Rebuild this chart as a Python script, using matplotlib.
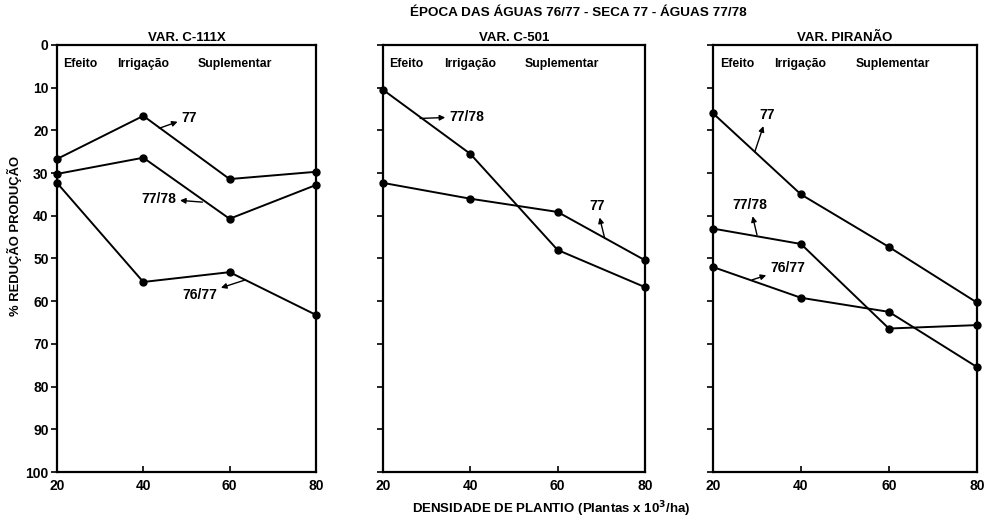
import matplotlib
matplotlib.use('Agg')
import matplotlib.pyplot as plt

plt.rcParams['font.family'] = ['Liberation Sans', 'DejaVu Sans']
plt.rcParams['font.weight'] = 'bold'

# Densidade de plantio (x 10^3 plantas/ha)
densidade = [20, 40, 60, 80]

# % reducao producao
c111x_77 = [26.7, 16.6, 31.4, 29.7]
c111x_7778 = [30.2, 26.4, 40.7, 32.8]
c111x_7677 = [32.3, 55.5, 53.2, 63.2]

c501_7778 = [10.5, 25.5, 48.0, 56.7]
c501_77 = [32.3, 36.0, 39.1, 50.4]

piranao_77 = [16.0, 35.0, 47.3, 60.3]
piranao_7778 = [43.0, 46.6, 66.4, 65.6]
piranao_7677 = [52.0, 59.2, 62.5, 75.4]

titulos = ['VAR. C-111X', 'VAR. C-501', 'VAR. PIRANÃO']
yticks = [0, 10, 20, 30, 40, 50, 60, 70, 80, 90, 100]

paineis = [
    [c111x_77, c111x_7778, c111x_7677],
    [c501_7778, c501_77],
    [piranao_77, piranao_7778, piranao_7677],
]

# label, text position, point on the line the arrow starts from
rotulos = [
    [('77', (50.7, 17.0), (43.7, 19.5)),
     ('77/78', (43.5, 36.0), (53.7, 36.8)),
     ('76/77', (53.0, 58.5), (63.7, 55.0))],
    [('77/78', (39.2, 16.8), (28.5, 17.2)),
     ('77', (69.0, 37.8), (70.8, 45.3))],
    [('77', (32.3, 16.4), (29.5, 25.0)),
     ('77/78', (28.4, 37.5), (30.0, 44.5)),
     ('76/77', (37.0, 52.3), (28.9, 55.0))],
]

fig = plt.figure(figsize=(9.88, 5.2), dpi=100)
lefts = [0.0577, 0.3877, 0.7217]
widths = [0.262, 0.265, 0.267]

for i in range(3):
    ax = fig.add_axes([lefts[i], 0.0923, widths[i], 0.8212])
    for serie in paineis[i]:
        ax.plot(densidade, serie, color='black', lw=1.4, marker='o',
                markersize=5, clip_on=False, zorder=3)
    ax.set_xlim(20, 80)
    ax.set_ylim(100, 0)
    ax.set_xticks(densidade)
    ax.set_yticks(yticks)
    if i == 0:
        ax.set_yticklabels([str(v) for v in yticks])
    else:
        ax.set_yticklabels([])
    ax.tick_params(axis='y', direction='out', length=4, width=1.2, labelsize=10, pad=2)
    ax.tick_params(axis='x', direction='in', length=4, width=1.2, labelsize=10, pad=5)
    for s in ax.spines.values():
        s.set_linewidth(1.6)
    ax.set_title(titulos[i], fontsize=9.5, fontweight='bold', pad=3)

    ax.text(21.5, 4.5, 'Efeito', fontsize=8.8, fontweight='bold', va='center')
    ax.text(34.0, 4.5, 'Irrigação', fontsize=8.8, fontweight='bold', va='center')
    ax.text(52.5, 4.5, 'Suplementar', fontsize=8.8, fontweight='bold', va='center')

    for txt, pos, ponto in rotulos[i]:
        ax.annotate(txt, xy=ponto, xytext=pos, fontsize=10, fontweight='bold',
                    ha='center', va='center',
                    arrowprops=dict(arrowstyle='<|-', color='black', lw=1.0,
                                    shrinkA=1, shrinkB=0, mutation_scale=8))

fig.text(0.585, 0.975, 'ÉPOCA DAS ÁGUAS 76/77 - SECA 77 - ÁGUAS 77/78',
         ha='center', va='center', fontsize=9.7, fontweight='bold')
fig.text(0.558, 0.02, 'DENSIDADE DE PLANTIO (Plantas x 10$^3$/ha)',
         ha='center', va='center', fontsize=9.5, fontweight='bold')
fig.text(0.015, 0.546, '% REDUÇÃO PRODUÇÃO', rotation=90,
         ha='center', va='center', fontsize=9.4, fontweight='bold')

fig.savefig('out.png', dpi=100)
